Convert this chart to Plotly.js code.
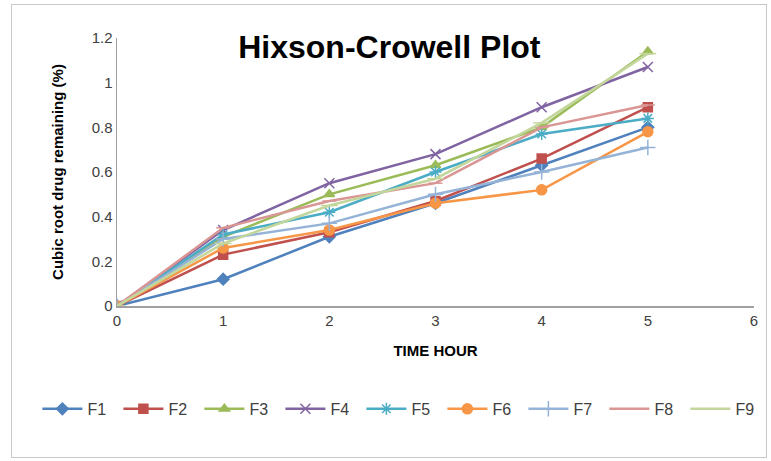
<!DOCTYPE html>
<html><head><meta charset="utf-8">
<script src="https://cdn.plot.ly/plotly-3.0.1.min.js"></script>
<style>body{margin:0;background:#fff}#wrap{position:absolute;left:11px;top:4px;width:754px;height:452px;border:1px solid #c8c8c8}#chart{position:absolute;left:0;top:0;width:771px;height:461px}</style>
</head><body><div id="wrap"></div><div id="chart"></div>
<script>
const hours = [0, 1, 2, 3, 4, 5];
const F1 = [0, 0.12, 0.31, 0.46, 0.63, 0.80];
const F2 = [0, 0.23, 0.33, 0.47, 0.66, 0.89];
const F3 = [0, 0.31, 0.50, 0.63, 0.80, 1.14];
const F4 = [0, 0.34, 0.55, 0.68, 0.89, 1.07];
const F5 = [0, 0.32, 0.42, 0.60, 0.77, 0.84];
const F6 = [0, 0.26, 0.34, 0.46, 0.52, 0.78];
const F7 = [0, 0.30, 0.37, 0.50, 0.60, 0.71];
const F8 = [0, 0.35, 0.47, 0.55, 0.80, 0.90];
const F9 = [0, 0.28, 0.45, 0.57, 0.82, 1.13];
const names = ['F1','F2','F3','F4','F5','F6','F7','F8','F9'];
const series = [F1,F2,F3,F4,F5,F6,F7,F8,F9];
const colors = ['#4F81BD','#C0504D','#9BBB59','#8064A2','#4BACC6','#F79646','#95B3D7','#D99694','#C3D69B'];
const symbols = ['diamond','square','triangle-up','x-thin-open','asterisk-open','circle','cross-thin-open','line-ew-open','line-ew-open'];
const sizes = [9,9,9,10,10,10,11,10,12];
const traces = series.map((s,i)=>({
  x: hours, y: s, name: names[i], type:'scatter', mode:'lines+markers',
  line:{color:colors[i], width:2.5},
  marker:{symbol:symbols[i], size:sizes[i], color:colors[i], line:{color:colors[i], width:1.5}}
}));
const layout = {
  width:771, height:461,
  margin:{l:117, r:17, t:38, b:155},
  paper_bgcolor:'rgba(0,0,0,0)', plot_bgcolor:'rgba(0,0,0,0)',
  font:{family:'Liberation Sans, Arial, sans-serif', size:15, color:'#595959'},
  title:{text:'<b>Hixson-Crowell Plot</b>', font:{size:32, color:'#000', family:'Liberation Sans, sans-serif'}, x:0.505, xanchor:'center', y:1-47/461, yref:'container', yanchor:'middle'},
  xaxis:{range:[0,6], tickvals:[0,1,2,3,4,5,6], showgrid:false, zeroline:false, showline:true, linecolor:'#a0a0a0', linewidth:1.5, ticks:'', tickfont:{size:15,color:'#404040'},
    title:{text:'<b>TIME HOUR</b>', font:{size:15,color:'#000'}, standoff:18}},
  yaxis:{range:[0,1.2], tickvals:[0,0.2,0.4,0.6,0.8,1,1.2], ticktext:['0','0.2','0.4','0.6','0.8','1','1.2'], showgrid:false, zeroline:false, showline:true, linecolor:'#a0a0a0', linewidth:1.5, ticks:'', ticklen:0, tickfont:{size:15,color:'#404040'},
    title:{text:'<b>Cubic root drug remaining (%)</b>', font:{size:15,color:'#000'}, standoff:24}},
  legend:{orientation:'h', x:-0.125, xanchor:'left', y:-0.384, yanchor:'middle', font:{size:16,color:'#404040'}, itemwidth:40, entrywidth:26, entrywidthmode:'pixels', tracegroupgap:0},
  showlegend:true
};
Plotly.newPlot('chart', traces, layout, {displayModeBar:false, staticPlot:true});
</script></body></html>
